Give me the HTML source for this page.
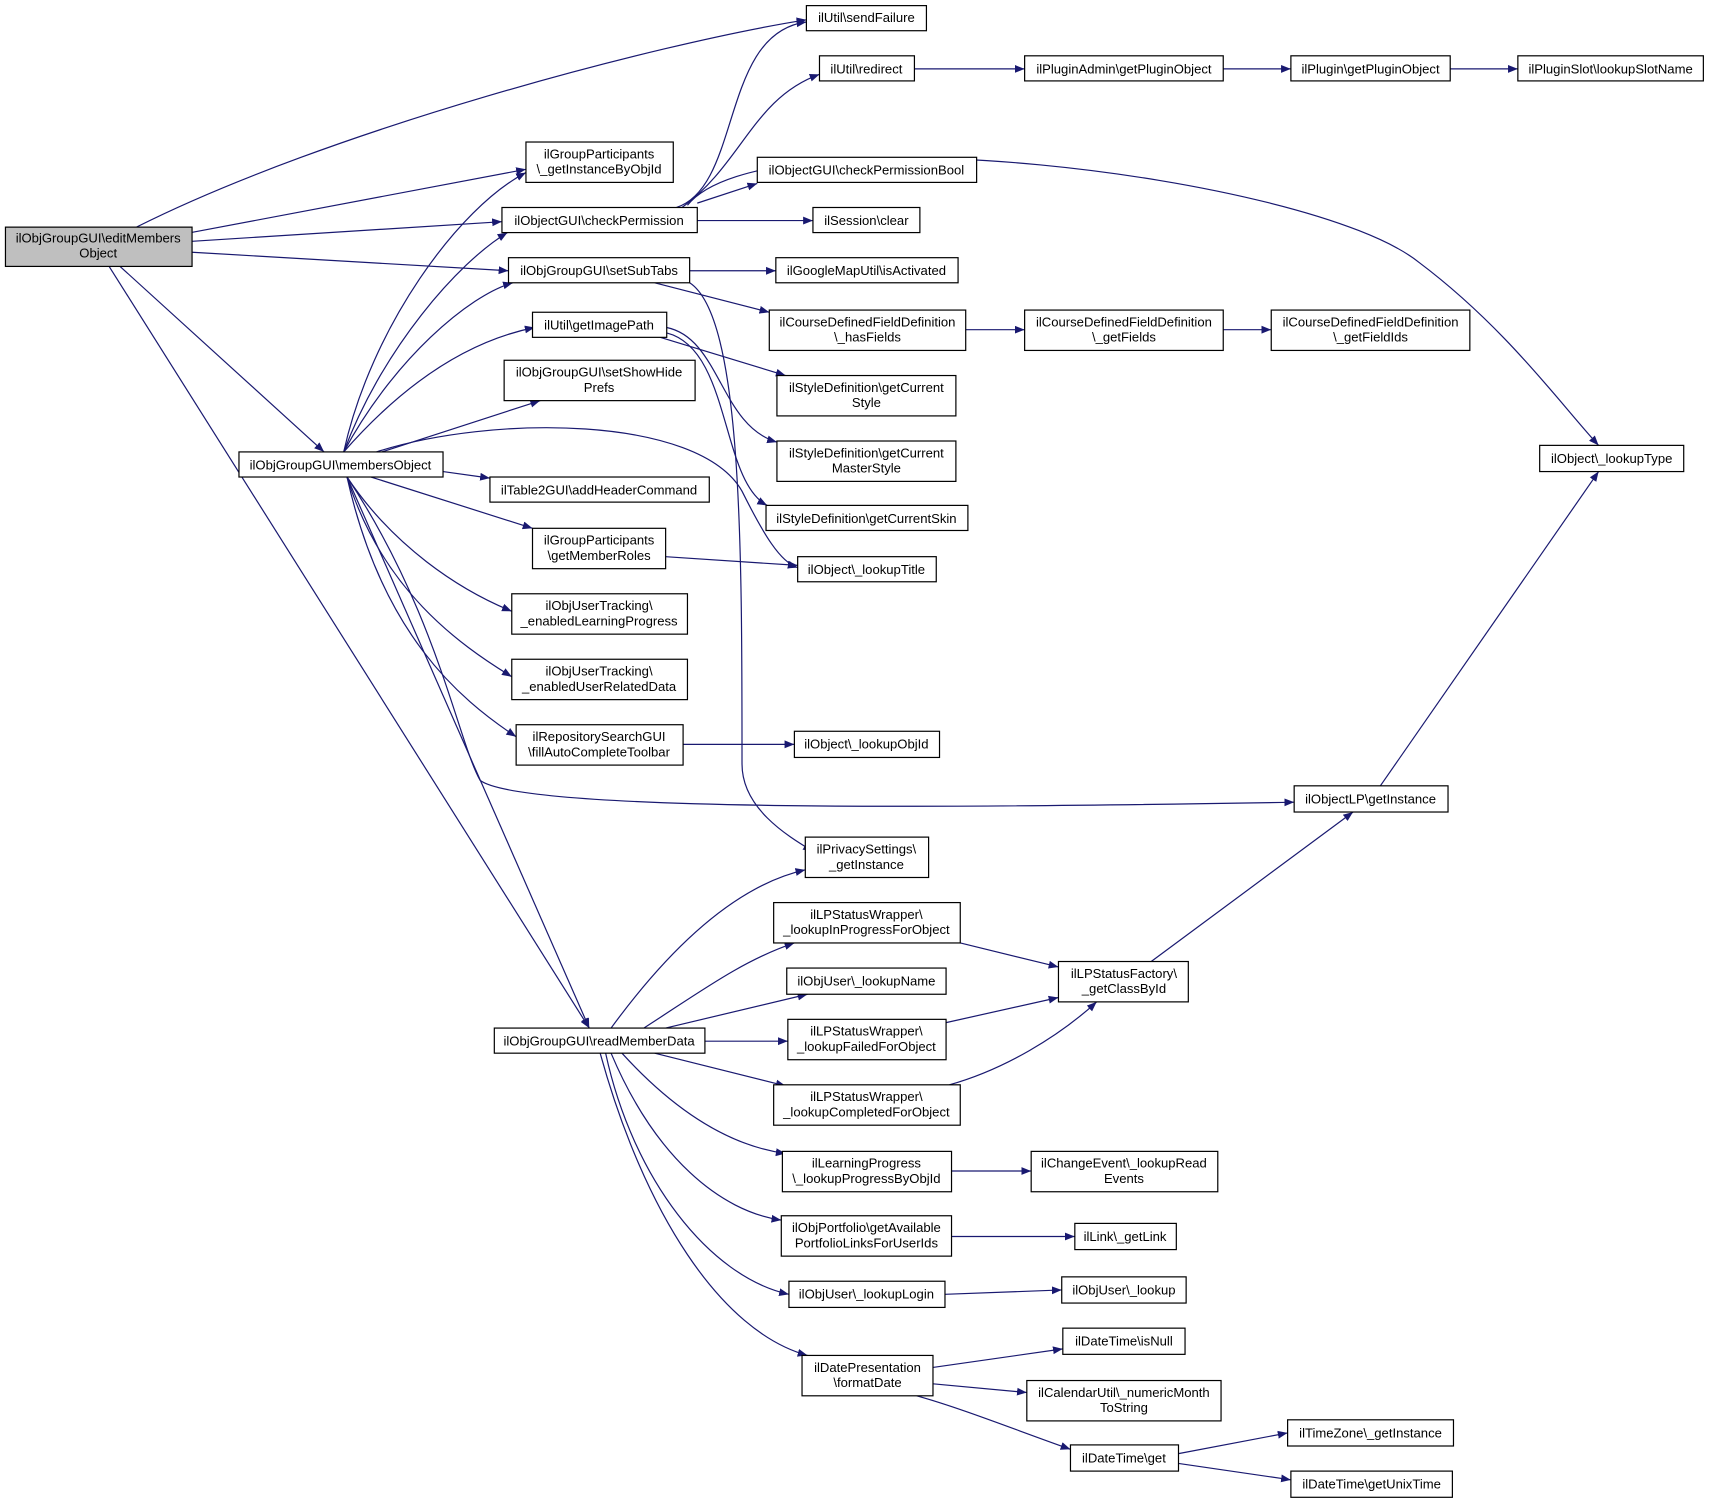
<!DOCTYPE html>
<html><head><meta charset="utf-8"><style>
html,body{margin:0;padding:0;background:#fff;}
svg text{font-family:"Liberation Sans",sans-serif;font-size:12px;fill:#000;text-anchor:middle;}
</style></head><body>
<svg width="1711" height="1504" viewBox="0 0 1568 1378" xmlns="http://www.w3.org/2000/svg">
<defs><marker id="a" viewBox="0 0 10 10" refX="10" refY="5" markerWidth="9" markerHeight="9" markerUnits="userSpaceOnUse" orient="auto"><path d="M0,1 L10,5 L0,9 z" fill="#191970"/></marker></defs>
<g fill="none" stroke="#191970" stroke-width="1.1" marker-end="url(#a)">
<path d="M125,208 C300,120 600,40 739,18"/>
<path d="M175,213 C300,190 400,170 482,155"/>
<path d="M176,221 L460,203"/>
<path d="M176,231 L466,248"/>
<path d="M110,244 L297,414"/>
<path d="M100,244 L540,942"/>
<path d="M315,414 C340,300 420,190 482,158"/>
<path d="M315,414 C350,320 420,240 465,213"/>
<path d="M315,414 C360,330 430,270 470,259"/>
<path d="M315,414 C380,340 440,310 490,300"/>
<path d="M350,414 L495,367"/>
<path d="M345,414 C450,380 640,380 680,450 C700,490 715,515 731,520"/>
<path d="M406,432 L449,438"/>
<path d="M340,437 L488,484"/>
<path d="M318,437 C360,500 420,540 469,560"/>
<path d="M318,437 C350,540 420,590 469,620"/>
<path d="M318,437 C350,580 420,640 473,675"/>
<path d="M318,437 C400,560 420,680 440,715 C480,745 900,740 1186,735"/>
<path d="M318,437 L540,942"/>
<path d="M632,259 C680,290 680,500 680,700 C680,740 720,765 745,780"/>
<path d="M620,190 C680,170 660,30 739,20"/>
<path d="M625,190 C680,150 690,90 751,68"/>
<path d="M639,186 L694,168"/>
<path d="M639,202 L745,202"/>
<path d="M630,188 C700,100 1200,160 1300,240 C1380,300 1430,370 1465,408"/>
<path d="M632,248 L711,248"/>
<path d="M600,259 L705,286"/>
<path d="M885,302 L939,302"/>
<path d="M1121,302 L1165,302"/>
<path d="M605,309 L720,344"/>
<path d="M611,300 C660,310 660,390 712,405"/>
<path d="M611,305 C670,320 660,440 703,463"/>
<path d="M610,510 L731,518"/>
<path d="M626,682 L728,682"/>
<path d="M838,63 L939,63"/>
<path d="M1121,63 L1183,63"/>
<path d="M1329,63 L1391,63"/>
<path d="M1265,720 L1465,432"/>
<path d="M560,942 C620,860 680,810 738,797"/>
<path d="M590,942 C640,910 680,880 728,864"/>
<path d="M610,942 L740,911"/>
<path d="M646,954 L722,954"/>
<path d="M600,965 L720,995"/>
<path d="M570,965 C620,1020 670,1050 720,1057"/>
<path d="M560,965 C600,1060 660,1110 716,1118"/>
<path d="M555,965 C580,1080 650,1170 723,1186"/>
<path d="M550,965 C590,1110 660,1220 740,1242"/>
<path d="M880,864 L970,886"/>
<path d="M867,937 L970,914"/>
<path d="M870,994 C920,980 970,950 1005,918"/>
<path d="M1055,881 L1240,744"/>
<path d="M872,1073 L945,1073"/>
<path d="M872,1133 L985,1133"/>
<path d="M866,1186 L973,1182"/>
<path d="M855,1253 L974,1236"/>
<path d="M855,1268 L941,1276"/>
<path d="M840,1279 C880,1290 930,1310 981,1328"/>
<path d="M1080,1332 L1180,1313"/>
<path d="M1080,1341 L1183,1356"/>
</g>
<g stroke="#000" stroke-width="1.1" fill="#fff">
<rect x="5" y="208" width="171" height="36" fill="#bfbfbf"/>
<rect x="739" y="5" width="110" height="23"/>
<rect x="482" y="130" width="135" height="37"/>
<rect x="460" y="190" width="179" height="23"/>
<rect x="466" y="236" width="166" height="23"/>
<rect x="488" y="286" width="123" height="23"/>
<rect x="462" y="330" width="175" height="37"/>
<rect x="219" y="414" width="187" height="23"/>
<rect x="449" y="437" width="201" height="23"/>
<rect x="488" y="484" width="122" height="37"/>
<rect x="469" y="544" width="161" height="37"/>
<rect x="469" y="604" width="161" height="37"/>
<rect x="473" y="664" width="153" height="37"/>
<rect x="453" y="942" width="193" height="23"/>
<rect x="751" y="51" width="87" height="23"/>
<rect x="939" y="51" width="182" height="23"/>
<rect x="1183" y="51" width="146" height="23"/>
<rect x="1391" y="51" width="170" height="23"/>
<rect x="694" y="144" width="201" height="23"/>
<rect x="745" y="190" width="98" height="23"/>
<rect x="711" y="236" width="167" height="23"/>
<rect x="705" y="284" width="180" height="37"/>
<rect x="939" y="284" width="182" height="37"/>
<rect x="1165" y="284" width="182" height="37"/>
<rect x="712" y="344" width="164" height="37"/>
<rect x="712" y="404" width="164" height="37"/>
<rect x="702" y="463" width="185" height="23"/>
<rect x="731" y="510" width="127" height="23"/>
<rect x="1411" y="408" width="132" height="24"/>
<rect x="728" y="670" width="133" height="24"/>
<rect x="1186" y="720" width="141" height="24"/>
<rect x="738" y="767" width="113" height="37"/>
<rect x="709" y="827" width="171" height="37"/>
<rect x="721" y="887" width="146" height="24"/>
<rect x="722" y="934" width="145" height="37"/>
<rect x="709" y="994" width="171" height="37"/>
<rect x="970" y="881" width="119" height="37"/>
<rect x="717" y="1055" width="155" height="37"/>
<rect x="945" y="1055" width="171" height="37"/>
<rect x="716" y="1114" width="156" height="37"/>
<rect x="985" y="1121" width="93" height="24"/>
<rect x="723" y="1174" width="143" height="24"/>
<rect x="973" y="1170" width="114" height="24"/>
<rect x="735" y="1242" width="120" height="37"/>
<rect x="974" y="1217" width="112" height="24"/>
<rect x="941" y="1265" width="178" height="37"/>
<rect x="981" y="1324" width="99" height="24"/>
<rect x="1180" y="1301" width="152" height="24"/>
<rect x="1183" y="1348" width="148" height="24"/>
</g>
<g>
<text x="90" y="222">ilObjGroupGUI\editMembers</text><text x="90" y="236">Object</text>
<text x="794" y="20">ilUtil\sendFailure</text>
<text x="549" y="145">ilGroupParticipants</text><text x="549" y="159">\_getInstanceByObjId</text>
<text x="549" y="206">ilObjectGUI\checkPermission</text>
<text x="549" y="252">ilObjGroupGUI\setSubTabs</text>
<text x="549" y="302">ilUtil\getImagePath</text>
<text x="549" y="345">ilObjGroupGUI\setShowHide</text><text x="549" y="359">Prefs</text>
<text x="312" y="430">ilObjGroupGUI\membersObject</text>
<text x="549" y="453">ilTable2GUI\addHeaderCommand</text>
<text x="549" y="499">ilGroupParticipants</text><text x="549" y="513">\getMemberRoles</text>
<text x="549" y="559">ilObjUserTracking\</text><text x="549" y="573">_enabledLearningProgress</text>
<text x="549" y="619">ilObjUserTracking\</text><text x="549" y="633">_enabledUserRelatedData</text>
<text x="549" y="679">ilRepositorySearchGUI</text><text x="549" y="693">\fillAutoCompleteToolbar</text>
<text x="549" y="958">ilObjGroupGUI\readMemberData</text>
<text x="794" y="67">ilUtil\redirect</text>
<text x="1030" y="67">ilPluginAdmin\getPluginObject</text>
<text x="1256" y="67">ilPlugin\getPluginObject</text>
<text x="1476" y="67">ilPluginSlot\lookupSlotName</text>
<text x="794" y="160">ilObjectGUI\checkPermissionBool</text>
<text x="794" y="206">ilSession\clear</text>
<text x="794" y="252">ilGoogleMapUtil\isActivated</text>
<text x="795" y="299">ilCourseDefinedFieldDefinition</text><text x="795" y="313">\_hasFields</text>
<text x="1030" y="299">ilCourseDefinedFieldDefinition</text><text x="1030" y="313">\_getFields</text>
<text x="1256" y="299">ilCourseDefinedFieldDefinition</text><text x="1256" y="313">\_getFieldIds</text>
<text x="794" y="359">ilStyleDefinition\getCurrent</text><text x="794" y="373">Style</text>
<text x="794" y="419">ilStyleDefinition\getCurrent</text><text x="794" y="433">MasterStyle</text>
<text x="794" y="479">ilStyleDefinition\getCurrentSkin</text>
<text x="794" y="526">ilObject\_lookupTitle</text>
<text x="1477" y="424">ilObject\_lookupType</text>
<text x="794" y="686">ilObject\_lookupObjId</text>
<text x="1256" y="736">ilObjectLP\getInstance</text>
<text x="794" y="782">ilPrivacySettings\</text><text x="794" y="796">_getInstance</text>
<text x="794" y="842">ilLPStatusWrapper\</text><text x="794" y="856">_lookupInProgressForObject</text>
<text x="794" y="903">ilObjUser\_lookupName</text>
<text x="794" y="949">ilLPStatusWrapper\</text><text x="794" y="963">_lookupFailedForObject</text>
<text x="794" y="1009">ilLPStatusWrapper\</text><text x="794" y="1023">_lookupCompletedForObject</text>
<text x="1030" y="896">ilLPStatusFactory\</text><text x="1030" y="910">_getClassById</text>
<text x="794" y="1070">ilLearningProgress</text><text x="794" y="1084">\_lookupProgressByObjId</text>
<text x="1030" y="1070">ilChangeEvent\_lookupRead</text><text x="1030" y="1084">Events</text>
<text x="794" y="1129">ilObjPortfolio\getAvailable</text><text x="794" y="1143">PortfolioLinksForUserIds</text>
<text x="1031" y="1137">ilLink\_getLink</text>
<text x="794" y="1190">ilObjUser\_lookupLogin</text>
<text x="1030" y="1186">ilObjUser\_lookup</text>
<text x="795" y="1257">ilDatePresentation</text><text x="795" y="1271">\formatDate</text>
<text x="1030" y="1233">ilDateTime\isNull</text>
<text x="1030" y="1280">ilCalendarUtil\_numericMonth</text><text x="1030" y="1294">ToString</text>
<text x="1030" y="1340">ilDateTime\get</text>
<text x="1256" y="1317">ilTimeZone\_getInstance</text>
<text x="1257" y="1364">ilDateTime\getUnixTime</text>
</g>
</svg>
</body></html>
